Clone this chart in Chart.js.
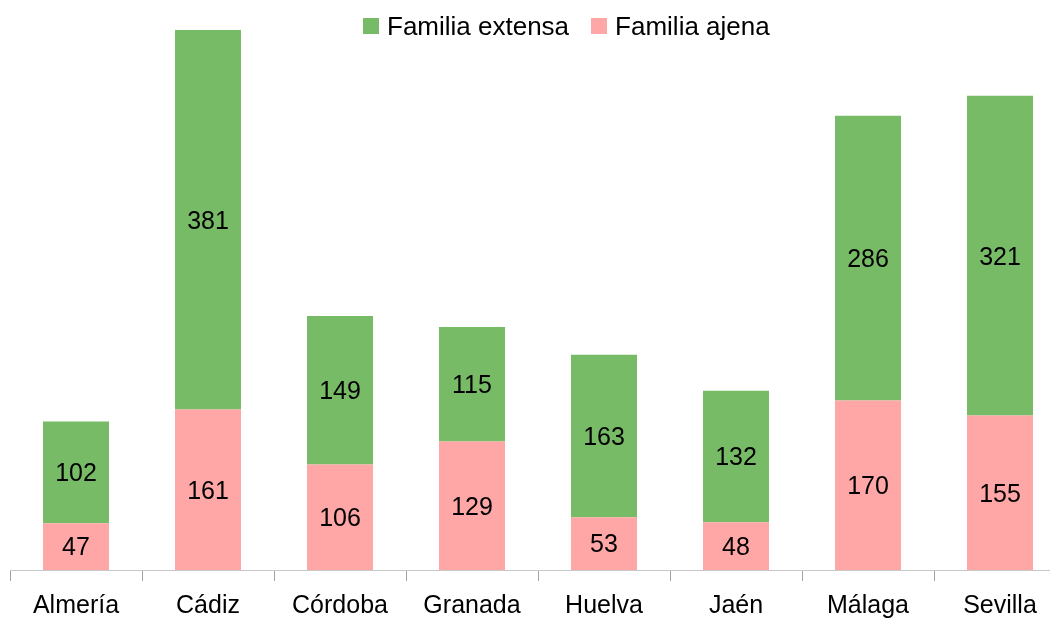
<!DOCTYPE html>
<html>
<head>
<meta charset="utf-8">
<script src="https://cdn.jsdelivr.net/npm/chart.js@4/dist/chart.umd.min.js"></script>
<style>
  html, body { margin: 0; padding: 0; background: #fff; overflow: hidden; width: 1050px; height: 618px; }
  #wrap { position: relative; width: 1050px; height: 618px; overflow: hidden; }
  #chart { position: absolute; left: 0; top: 0; }
  #legend {
    position: absolute; left: 363px; top: 11px;
    display: flex; gap: 22px;
    font: 26px 'Liberation Sans', Arial, sans-serif; line-height: 30px; color: #000;
  }
  .item { display: flex; align-items: center; white-space: nowrap; }
  .swatch { width: 16px; height: 16px; margin-right: 8px; }
</style>
</head>
<body>
<div id="wrap">
  <canvas id="chart" width="1070" height="631"></canvas>
  <div id="legend"></div>
</div>
<script>
const categories = ['Almería', 'Cádiz', 'Córdoba', 'Granada', 'Huelva', 'Jaén', 'Málaga', 'Sevilla'];
const familiaAjena = [47, 161, 106, 129, 53, 48, 170, 155];
const familiaExtensa = [102, 381, 149, 115, 163, 132, 286, 321];
const seriesNames = ['Familia ajena', 'Familia extensa'];
const seriesColors = ['#ffa6a6', '#78bb66'];

const FONT = "'Liberation Sans', Arial, sans-serif";

// value labels centred in each stacked segment
const segmentLabels = {
  id: 'segmentLabels',
  afterDatasetsDraw(chart) {
    const ctx = chart.ctx;
    ctx.save();
    ctx.font = '25px ' + FONT;
    ctx.fillStyle = '#000';
    ctx.textAlign = 'center';
    ctx.textBaseline = 'middle';
    chart.data.datasets.forEach((ds, i) => {
      chart.getDatasetMeta(i).data.forEach((bar, j) => {
        ctx.fillText(ds.data[j], bar.x, (bar.y + bar.base) / 2 + 2);
      });
    });
    ctx.restore();
  }
};

const chart = new Chart(document.getElementById('chart'), {
  type: 'bar',
  data: {
    labels: categories,
    datasets: [
      { label: seriesNames[0], data: familiaAjena, backgroundColor: seriesColors[0] },
      { label: seriesNames[1], data: familiaExtensa, backgroundColor: seriesColors[1] }
    ]
  },
  options: {
    responsive: false,
    animation: false,
    devicePixelRatio: 1,
    layout: { padding: { left: 10, right: 4, top: 22, bottom: 0 } },
    datasets: { bar: { categoryPercentage: 0.5, barPercentage: 1, borderWidth: 0 } },
    plugins: { legend: { display: false }, tooltip: { enabled: false } },
    scales: {
      x: {
        stacked: true,
        grid: { display: true, drawOnChartArea: false, drawTicks: true, tickLength: 11, color: '#a0a0a0', lineWidth: 1 },
        border: { display: true, color: '#c8c8c8', width: 1 },
        ticks: { color: '#000', padding: 10, font: { family: FONT, size: 25 }, maxRotation: 0, autoSkip: false }
      },
      y: {
        stacked: true,
        display: false,
        min: 0,
        max: 550
      }
    }
  },
  plugins: [segmentLabels]
});

// HTML legend, stacked order reversed like the original
const legendEl = document.getElementById('legend');
chart.data.datasets.slice().reverse().forEach(ds => {
  const item = document.createElement('div');
  item.className = 'item';
  item.innerHTML = `<div class="swatch" style="background:${ds.backgroundColor}"></div><span>${ds.label}</span>`;
  legendEl.appendChild(item);
});
</script>
</body>
</html>
